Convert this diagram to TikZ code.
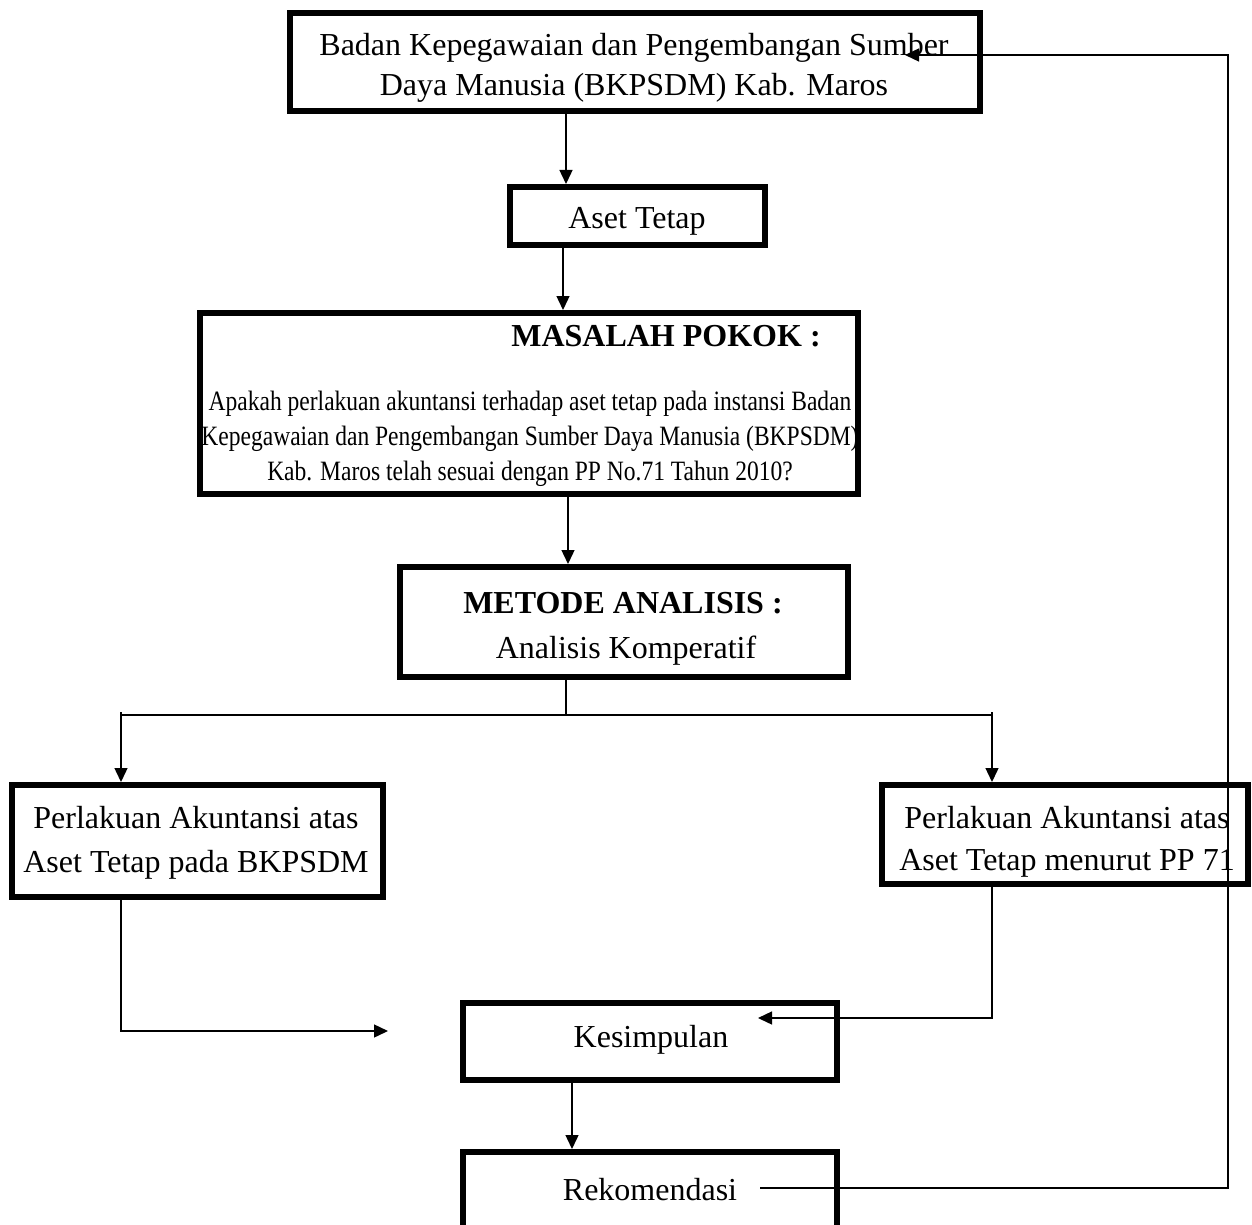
\documentclass[tikz,border=0pt]{standalone}
\usepackage{fontspec}
\setmainfont{Liberation Serif}
\newfontfamily\condfont[FakeStretch=0.84]{Liberation Serif}
\usetikzlibrary{arrows.meta}
\begin{document}
\begin{tikzpicture}[x=0.5pt,y=-0.5pt,
  box/.style={draw, line width=3pt, inner sep=0pt, rectangle},
  txt/.style={inner sep=0pt, align=center, font=\fontsize{16}{20}\selectfont},
  ln/.style={line width=0.7pt},
  arr/.style={line width=0.7pt, -{Triangle[length=7pt,width=6.5pt]}}]
\useasboundingbox[fill=white] (0,0) rectangle (1252,1225);
% boxes
\node[box, minimum width=345pt, minimum height=49pt] (b1) at (635,62) {};
\node[box, minimum width=127.5pt, minimum height=29pt] (b2) at (637.5,216) {};
\node[box, minimum width=329pt, minimum height=90.5pt] (b3) at (529,403.5) {};
\node[box, minimum width=224pt, minimum height=55pt] (b4) at (624,622) {};
\node[box, minimum width=185.5pt, minimum height=56pt] (b5) at (197.5,841) {};
\node[box, minimum width=183pt, minimum height=49.5pt] (b6) at (1065,834.5) {};
\node[box, minimum width=187pt, minimum height=38.5pt] (b7) at (650,1041.5) {};
\node[box, minimum width=187pt, minimum height=74pt] (b8) at (650,1226) {};
% texts
\node[txt] (t1) at (634,68) {Badan Kepegawaian dan Pengembangan Sumber\\Daya Manusia (BKPSDM) Kab. Maros};
\node[txt] (t2) at (637,221) {Aset Tetap};
\node[txt, font=\fontsize{16}{20}\selectfont\bfseries] (t3a) at (666,336) {MASALAH POKOK :};
\node[txt, font=\condfont\fontsize{14}{17.5}\selectfont] (t3b) at (530,439) {Apakah perlakuan akuntansi terhadap aset tetap pada instansi Badan\\Kepegawaian dan Pengembangan Sumber Daya Manusia (BKPSDM)\\Kab. Maros telah sesuai dengan PP No.71 Tahun 2010?};
\node[txt, font=\fontsize{16}{20}\selectfont\bfseries] (t4a) at (623,603) {METODE ANALISIS :};
\node[txt] (t4b) at (626,651) {Analisis Komperatif};
\node[txt, font=\fontsize{16}{22}\selectfont] (t5) at (196,843) {Perlakuan Akuntansi atas\\Aset Tetap pada BKPSDM};
\node[txt, font=\fontsize{16}{21}\selectfont] (t6) at (1067,842) {Perlakuan Akuntansi atas\\Aset Tetap menurut PP 71};
\node[txt] (t7) at (651,1040) {Kesimpulan};
\node[txt] (t8) at (650,1190) {Rekomendasi};
% coordinates
\coordinate (x1) at (566,0);
\coordinate (x2) at (563,0);
\coordinate (x3) at (568,0);
\coordinate (sm) at (566,715);
\coordinate (sl) at (121,715);
\coordinate (sr) at (992,715);
\coordinate (lt) at (388,1031);
\coordinate (rt) at (758,1018);
\coordinate (x7) at (572,0);
\coordinate (rs) at (760,1188);
\coordinate (rc) at (1228,0);
\coordinate (fb) at (905,55);
% connectors
\draw[arr] (b1.south -| x1) -- (b2.north -| x1);
\draw[arr] (b2.south -| x2) -- (b3.north -| x2);
\draw[arr] (b3.south -| x3) -- (b4.north -| x3);
\draw[ln] (b4.south -| sm) -- (sm);
\draw[ln] (sl) -- (sr);
\draw[ln] ([yshift=1.5pt]sl) -- (sl);
\draw[ln] ([yshift=1.5pt]sr) -- (sr);
\draw[arr] (sl) -- (b5.north -| sl);
\draw[arr] (sr) -- (b6.north -| sr);
\draw[arr] (b5.south -| sl) |- (lt);
\draw[arr] (b6.south -| sr) |- (rt);
\draw[arr] (b7.south -| x7) -- (b8.north -| x7);
\draw[arr] (rs) -| (rc |- fb) -- (fb);
\end{tikzpicture}
\end{document}
